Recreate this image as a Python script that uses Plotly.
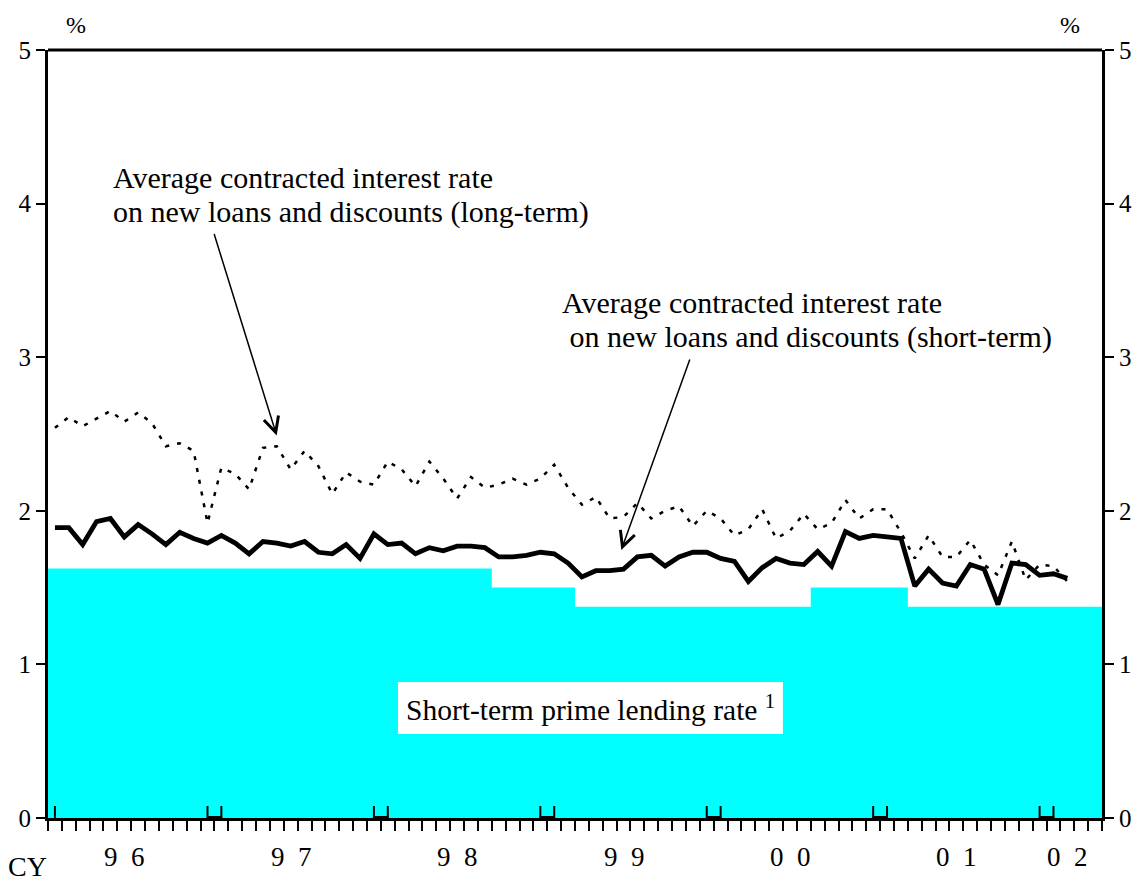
import plotly.graph_objects as go

# ---------------- data ----------------
months = [f"{y}-{m:02d}" for y in range(1996, 2003) for m in range(1, 13)][:76]   # Jan 1996 .. Apr 2002
years = [1996, 1997, 1998, 1999, 2000, 2001, 2002]
year_labels = ["9\u00a0\u00a06", "9\u00a0\u00a07", "9\u00a0\u00a08", "9\u00a0\u00a09",
               "0\u00a0\u00a00", "0\u00a0\u00a01", "0\u00a0\u00a02"]

long_term = [2.54, 2.61, 2.55, 2.60, 2.65, 2.58, 2.64, 2.57, 2.42, 2.44, 2.39, 1.92,
             2.28, 2.24, 2.14, 2.41, 2.42, 2.27, 2.39, 2.29, 2.11, 2.25, 2.19, 2.17,
             2.32, 2.27, 2.16, 2.32, 2.21, 2.08, 2.22, 2.15, 2.17, 2.21, 2.17, 2.21,
             2.30, 2.15, 2.04, 2.09, 1.95, 1.96, 2.05, 1.95, 2.00, 2.03, 1.90, 2.00,
             1.95, 1.84, 1.88, 2.01, 1.82, 1.87, 1.98, 1.88, 1.92, 2.07, 1.95, 2.01,
             2.01, 1.86, 1.69, 1.84, 1.70, 1.70, 1.81, 1.65, 1.58, 1.80, 1.55, 1.65,
             1.64, 1.54]

short_term = [1.89, 1.89, 1.78, 1.93, 1.95, 1.83, 1.91, 1.85, 1.78, 1.86, 1.82, 1.79,
              1.84, 1.79, 1.72, 1.80, 1.79, 1.77, 1.80, 1.73, 1.72, 1.78, 1.69, 1.85,
              1.78, 1.79, 1.72, 1.76, 1.74, 1.77, 1.77, 1.76, 1.70, 1.70, 1.71, 1.73,
              1.72, 1.66, 1.57, 1.61, 1.61, 1.62, 1.70, 1.71, 1.64, 1.70, 1.73, 1.73,
              1.69, 1.67, 1.54, 1.63, 1.69, 1.66, 1.65, 1.735, 1.64, 1.865, 1.82, 1.84,
              1.83, 1.82, 1.51, 1.62, 1.53, 1.51, 1.65, 1.62, 1.39, 1.66, 1.65, 1.58,
              1.59, 1.56]

prime_start = ["1996-01", "1998-09", "1999-03", "2000-08", "2001-03"]
prime_rate = [1.625, 1.5, 1.375, 1.5, 1.375]

y_ticks = [0, 1, 2, 3, 4, 5]

# ---------------- geometry helpers ----------------
W, H = 1144, 883
L, R, T, B = 48, 39, 50, 65
PW, PH = W - L - R, H - T - B
FONT = "Liberation Serif, Times New Roman, serif"


def px(x):
    return (x - L) / PW


def py(y):
    return (H - B - y) / PH


n = len(months)

# prime-rate step trace
idx = [months.index(s) for s in prime_start]
xs, ys = [], []
for k, i0 in enumerate(idx):
    xs.append(i0 - 0.5)
    ys.append(prime_rate[k])
xs.append(n - 0.5)
ys.append(prime_rate[-1])

fig = go.Figure()
fig.add_trace(go.Scatter(x=xs, y=ys, mode="lines", line=dict(shape="hv", width=0, color="#00FFFF"),
                         fill="tozeroy", fillcolor="#00FFFF", hoverinfo="skip", showlegend=False))
fig.add_trace(go.Scatter(x=list(range(len(long_term))), y=long_term, mode="lines",
                         line=dict(color="black", width=2.5, dash="4px,8px"), showlegend=False))
fig.add_trace(go.Scatter(x=list(range(len(short_term))), y=short_term, mode="lines",
                         line=dict(color="black", width=4.8), showlegend=False))
# invisible trace for the right axis
fig.add_trace(go.Scatter(x=[0], y=[0], yaxis="y2", mode="markers", marker=dict(opacity=0),
                         hoverinfo="skip", showlegend=False))

axis_common = dict(range=[0, 5], tickvals=y_ticks, ticks="outside", ticklen=9, tickwidth=2,
                   tickcolor="black", showline=True, linewidth=3, linecolor="black",
                   showgrid=False, zeroline=False,
                   tickfont=dict(family=FONT, size=25, color="black"))

fig.update_layout(
    width=W, height=H,
    margin=dict(l=L, r=R, t=T, b=B, pad=0),
    paper_bgcolor="white", plot_bgcolor="white",
    xaxis=dict(range=[-0.5, n - 0.5], tickvals=[k - 0.5 for k in range(n + 1)],
               ticks="outside", ticklen=10, tickwidth=2, tickcolor="black",
               showticklabels=False, showline=True, linewidth=2.5, linecolor="black",
               showgrid=False, zeroline=False),
    yaxis=dict(side="left", **axis_common),
    yaxis2=dict(side="right", overlaying="y", **axis_common),
)

shapes = []
# top border
shapes.append(dict(type="line", xref="paper", yref="paper", x0=0, x1=1, y0=1, y1=1,
                   line=dict(color="black", width=3)))
# tall tick marks around year boundaries
tall = [0] + [m for y in years[1:] for m in (months.index(f"{y}-01") - 1, months.index(f"{y}-01"))]
for m in tall:
    shapes.append(dict(type="line", xref="x", yref="paper", x0=m, x1=m, y0=0, y1=12 / PH,
                       line=dict(color="black", width=2)))
for y in years[1:]:
    j = months.index(f"{y}-01")
    shapes.append(dict(type="rect", xref="x", yref="paper", x0=j - 1 - 0.05, x1=j + 0.05,
                       y0=-3 / PH, y1=2 / PH, fillcolor="black", line=dict(width=0)))
# white label box
shapes.append(dict(type="rect", xref="paper", yref="paper", x0=px(399), x1=px(785),
                   y0=py(734), y1=py(682), fillcolor="white", line=dict(width=0), layer="above"))
fig.update_layout(shapes=shapes)

ann = []


def txt(text, x, y, size=30, xanchor="left"):
    ann.append(dict(text=text, xref="paper", yref="paper", x=px(x), y=py(y), xanchor=xanchor,
                    yanchor="middle", showarrow=False,
                    font=dict(family=FONT, size=size, color="black")))


txt("Average contracted interest rate", 111, 178)
txt("on new loans and discounts (long-term)", 111, 212)
txt("Average contracted interest rate", 561, 302)
txt("\u00a0on new loans and discounts (short-term)", 561, 337)
txt("Short-term prime lending rate <sup>1</sup>", 405, 708, size=29.5)
txt("%", 76, 25, size=24, xanchor="center")
txt("%", 1073, 25, size=24, xanchor="center")
txt("CY", 27, 866, size=28, xanchor="center")

# year labels
for y, lab in zip(years, year_labels):
    inyear = [i for i, m in enumerate(months) if m.startswith(str(y))]
    c = (inyear[0] + inyear[-1]) / 2 - 0.46
    ann.append(dict(text=lab, xref="x", yref="paper", x=c, y=py(857), xanchor="center",
                    yanchor="middle", showarrow=False,
                    font=dict(family=FONT, size=27, color="black")))

# arrows
ann.append(dict(text="", xref="x", yref="y", x=15.99, y=2.49, ax=-63, ay=-203,
                showarrow=True, arrowhead=5, arrowsize=2, arrowwidth=1.5, arrowcolor="black"))
ann.append(dict(text="", xref="x", yref="y", x=40.84, y=1.745, ax=69, ay=-192,
                showarrow=True, arrowhead=5, arrowsize=2, arrowwidth=1.5, arrowcolor="black"))

fig.update_layout(annotations=ann)
fig.write_html("out.html", config={"displayModeBar": False})

# remove the default page margin so the figure sits at the window's top-left corner
with open("out.html", encoding="utf-8") as f:
    page = f.read()
page = page.replace("<body>", '<body style="margin:0;padding:0;overflow:hidden;">', 1)
with open("out.html", "w", encoding="utf-8") as f:
    f.write(page)
